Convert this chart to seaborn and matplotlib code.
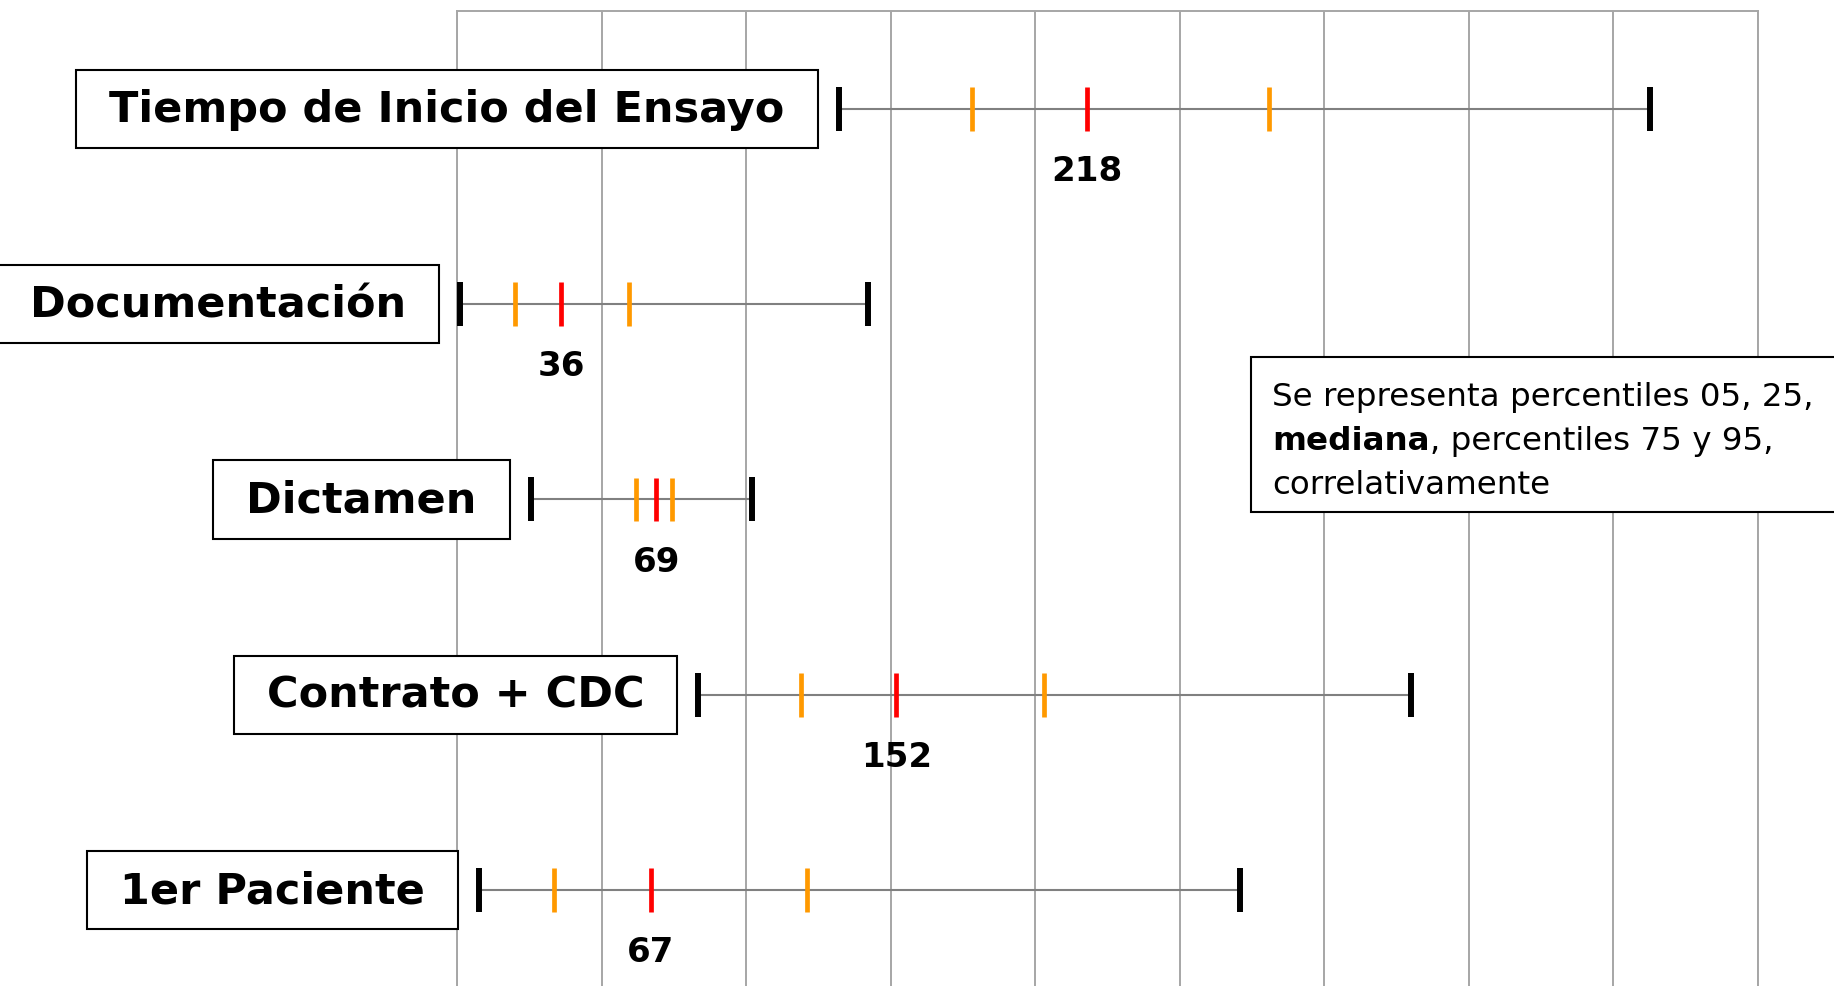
import numpy as np
import pandas as pd
import matplotlib.pyplot as plt
import seaborn as sns
from matplotlib.patches import Rectangle

# etapas y percentiles (dias)
etapas = ["Tiempo de Inicio del Ensayo", "Documentación", "Dictamen",
          "Contrato + CDC", "1er Paciente"]
p05 = [132, 1, 25.5, 83.5, 7.5]
p25 = [178, 20, 62, 119, 33.5]
p50 = [218, 36, 69, 152, 67]
p75 = [281, 59.5, 74.5, 203, 121]
p95 = [412.5, 142, 102, 330, 271]

nota_1 = "Se representa percentiles 05, 25,"
nota_2a = "mediana"
nota_2b = ", percentiles 75 y 95,"
nota_3 = "correlativamente"

df = pd.DataFrame({"etapa": etapas, "fila": range(len(etapas)),
                   "p05": p05, "p25": p25, "p50": p50, "p75": p75, "p95": p95})
largo = df.melt(id_vars=["etapa", "fila"],
                value_vars=["p05", "p25", "p50", "p75", "p95"],
                var_name="percentil", value_name="dias")

sns.set_style("white")
plt.rcParams["font.family"] = ["DejaVu Sans"]
plt.rcParams["text.color"] = "black"

W, H = 1834, 987
fig = plt.figure(figsize=(W / 100, H / 100), dpi=100)
ax = fig.add_axes([457 / W, 0, (1758 - 457) / W, (H - 12) / H])

#linea de rango p05 - p95
ax.hlines(df["fila"], df["p05"], df["p95"], color="#808080", lw=1.5, zorder=2)

extremos = largo[largo["percentil"].isin(["p05", "p95"])]
centro = largo[~largo["percentil"].isin(["p05", "p95"])]
sns.scatterplot(data=extremos, x="dias", y="fila", color="black", marker="|",
                s=1000, linewidth=4.3, ax=ax, zorder=3, legend=False)
sns.scatterplot(data=centro, x="dias", y="fila", hue="percentil",
                palette={"p25": "#ff9900", "p50": "#ff0000", "p75": "#ff9900"},
                marker="|", s=1000, linewidth=3.4, ax=ax, zorder=3, legend=False)

ax.set_xlim(0, 450)
ax.set_ylim(4.49, -0.5)
ax.set_xticks(np.arange(0, 451, 50))
ax.set_yticks([])
ax.tick_params(axis="x", length=0, labelbottom=False)
ax.grid(axis="x", color="#a6a6a6", lw=1.4)
ax.set_axisbelow(True)
for lado in ["top", "right", "left"]:
    ax.spines[lado].set_color("#a6a6a6")
    ax.spines[lado].set_linewidth(1.4)
ax.spines["bottom"].set_visible(False)
ax.set_xlabel("")
ax.set_ylabel("")

#etiquetas de cada etapa y mediana
for i, fila in df.iterrows():
    ax.text(fila["p05"] - 13.5, fila["fila"], f" {fila['etapa']} ", ha="right", va="center",
            fontsize=31, fontweight="bold",
            bbox=dict(boxstyle="square,pad=0.42", fc="white", ec="black", lw=1.5))
    ax.text(fila["p50"], fila["fila"] + 0.315, f"{fila['p50']:g}", ha="center", va="center",
            fontsize=24.5, fontweight="bold")

#cuadro de nota
fig.add_artist(Rectangle((1251 / W, 1 - 513 / H), (1850 - 1251) / W, (513 - 358) / H,
                         transform=fig.transFigure, fc="white", ec="black", lw=1.5, zorder=5))
fs = 23.4
x0 = 1272 / W
fig.text(x0, 1 - 406 / H, nota_1, fontsize=fs, va="baseline", zorder=6)
t2 = fig.text(x0, 1 - 450.5 / H, nota_2a, fontsize=fs, fontweight="bold", va="baseline", zorder=6)
fig.canvas.draw()
bb = t2.get_window_extent()
fig.text(bb.x1 / W, 1 - 450.5 / H, nota_2b, fontsize=fs, va="baseline", zorder=6)
fig.text(x0, 1 - 494 / H, nota_3, fontsize=fs, va="baseline", zorder=6)

plt.savefig("out.png", dpi=100)
